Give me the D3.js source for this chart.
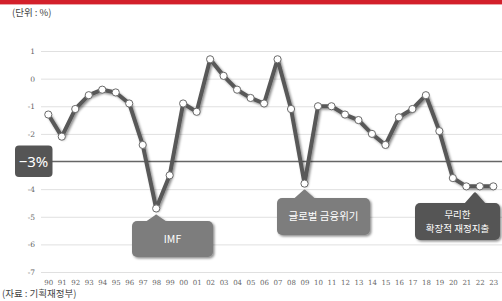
<!DOCTYPE html>
<html>
<head>
<meta charset="utf-8">
<script src="https://cdn.jsdelivr.net/npm/d3@7"></script>
<style>
  body { margin: 0; background: #fff; }
  svg { display: block; font-family: "Noto Sans CJK KR", "Noto Sans", sans-serif; }
</style>
</head>
<body>
<svg id="chart" width="502" height="301"></svg>
<script>
// years shown on the x axis (2-digit)
var years = ["90","91","92","93","94","95","96","97","98","99",
             "00","01","02","03","04","05","06","07","08","09",
             "10","11","12","13","14","15","16","17","18","19",
             "20","21","22","23"];
// balance as % of GDP
var balance = [-1.3,-2.1,-1.1,-0.6,-0.4,-0.5,-0.9,-2.4,-4.7,-3.5,
               -0.9,-1.2,0.7,0.1,-0.4,-0.7,-0.9,0.7,-1.1,-3.8,
               -1.0,-1.0,-1.3,-1.5,-2.0,-2.4,-1.4,-1.1,-0.6,-1.9,
               -3.6,-3.9,-3.9,-3.9];
var yTicks = [1, 0, -1, -2, -4, -5, -6, -7];
var limit = -3;
// callouts: which year they point at, text lines, colour
var notes = [
  { year: "98", lines: ["IMF"], box: [132, 221, 81, 36], fill: "#7d7d7d" },
  { year: "09", lines: ["글로벌 금융위기"], box: [277, 198, 93, 37], fill: "#7d7d7d" },
  { year: "21", lines: ["무리한", "확장적 재정지출"], box: [415, 203, 85, 37], fill: "#555", tip: 475 }
];

var svg = d3.select("#chart");

var defs = svg.append("defs");
var f = defs.append("filter").attr("id", "shadow")
  .attr("x", "-20%").attr("y", "-20%").attr("width", "150%").attr("height", "150%");
f.append("feDropShadow").attr("dx", 1.5).attr("dy", 1.5)
  .attr("stdDeviation", 1.2).attr("flood-color", "#000").attr("flood-opacity", 0.45);

// top red band
svg.append("rect").attr("x", 0).attr("y", 0).attr("width", 502).attr("height", 4).attr("fill", "#d3202b");
svg.append("rect").attr("x", 0).attr("y", 4).attr("width", 502).attr("height", 1).attr("fill", "#eba4a8");

svg.append("text").attr("x", 12).attr("y", 16)
  .attr("font-size", 9.5).attr("fill", "#444").text("(단위 : %)");

var x = d3.scalePoint().domain(years).range([48.3, 493.3]);
var y = d3.scaleLinear().domain([-7, 1]).range([272, 51]);

// grid + y labels
var grid = svg.append("g").attr("transform", "translate(41,0)")
  .call(d3.axisLeft(y).tickValues(yTicks).tickSize(-461).tickPadding(6)
    .tickFormat(function(d) { return d; }));
grid.select(".domain").remove();
grid.selectAll(".tick line").attr("stroke", "#e0e0e0").attr("stroke-width", 1);
grid.selectAll(".tick text").attr("font-size", 7.5).attr("fill", "#666")
  .attr("font-family", "'DejaVu Serif', serif");

// x labels
var xa = svg.append("g").attr("transform", "translate(0,276)")
  .call(d3.axisBottom(x).tickSize(0).tickPadding(4));
xa.select(".domain").remove();
xa.selectAll(".tick text").attr("font-size", 7).attr("fill", "#666")
  .attr("font-family", "'DejaVu Serif', serif");

// -3% reference line
svg.append("line").attr("x1", 50).attr("x2", 502)
  .attr("y1", y(limit)).attr("y2", y(limit))
  .attr("stroke", "#666").attr("stroke-width", 1.3);
svg.append("rect").attr("x", 15).attr("y", y(limit) - 16).attr("width", 37.5).attr("height", 31.5)
  .attr("rx", 4).attr("fill", "#555");
svg.append("text").attr("x", 33.5).attr("y", y(limit) + 5.5).attr("text-anchor", "middle")
  .attr("font-size", 15).attr("fill", "#fff").attr("font-family", "'Noto Sans', sans-serif")
  .text("\u22123%");

// line
var line = d3.line().x(function(d, i) { return x(years[i]); }).y(function(d) { return y(d); });
svg.append("path").datum(balance).attr("d", line)
  .attr("fill", "none").attr("stroke", "#585858").attr("stroke-width", 4)
  .attr("stroke-linejoin", "round").attr("filter", "url(#shadow)");
svg.selectAll("circle.pt").data(balance).enter().append("circle")
  .attr("class", "pt")
  .attr("cx", function(d, i) { return x(years[i]); })
  .attr("cy", function(d) { return y(d); })
  .attr("r", 3.6).attr("fill", "#fff").attr("stroke", "#6a6a6a").attr("stroke-width", 1);

// callouts
notes.forEach(function(n) {
  var bx = n.box[0], by = n.box[1], bw = n.box[2], bh = n.box[3];
  var v = balance[years.indexOf(n.year)];
  var tx = n.tip || x(n.year);
  var ty = y(v) + 6;
  var g = svg.append("g").attr("filter", "url(#shadow)");
  g.append("rect").attr("x", bx).attr("y", by).attr("width", bw).attr("height", bh)
    .attr("rx", 5).attr("fill", n.fill);
  g.append("path").attr("d", "M" + (tx - 11) + "," + (by + 1) + " L" + (tx - 1.5) + "," + (ty + 1) +
      " Q" + tx + "," + (ty - 1) + " " + (tx + 1.5) + "," + (ty + 1) + " L" + (tx + 11) + "," + (by + 1) + "Z")
    .attr("fill", n.fill);
  var fs = n.lines.length > 1 ? 9.5 : 10.5;
  var lh = 14.5;
  var t = svg.append("text").attr("text-anchor", "middle").attr("fill", "#fff")
    .attr("font-size", fs);
  var y0 = by + bh / 2 - (n.lines.length - 1) * lh / 2 + fs * 0.36;
  n.lines.forEach(function(s, i) {
    t.append("tspan").attr("x", bx + bw / 2).attr("y", y0 + i * lh).text(s);
  });
});

// re-draw the pointed-at markers on top of callouts
svg.selectAll("circle.pt").raise();

svg.append("text").attr("x", 2).attr("y", 297)
  .attr("font-size", 9.5).attr("fill", "#444").text("(자료 : 기획재정부)");
</script>
</body>
</html>
